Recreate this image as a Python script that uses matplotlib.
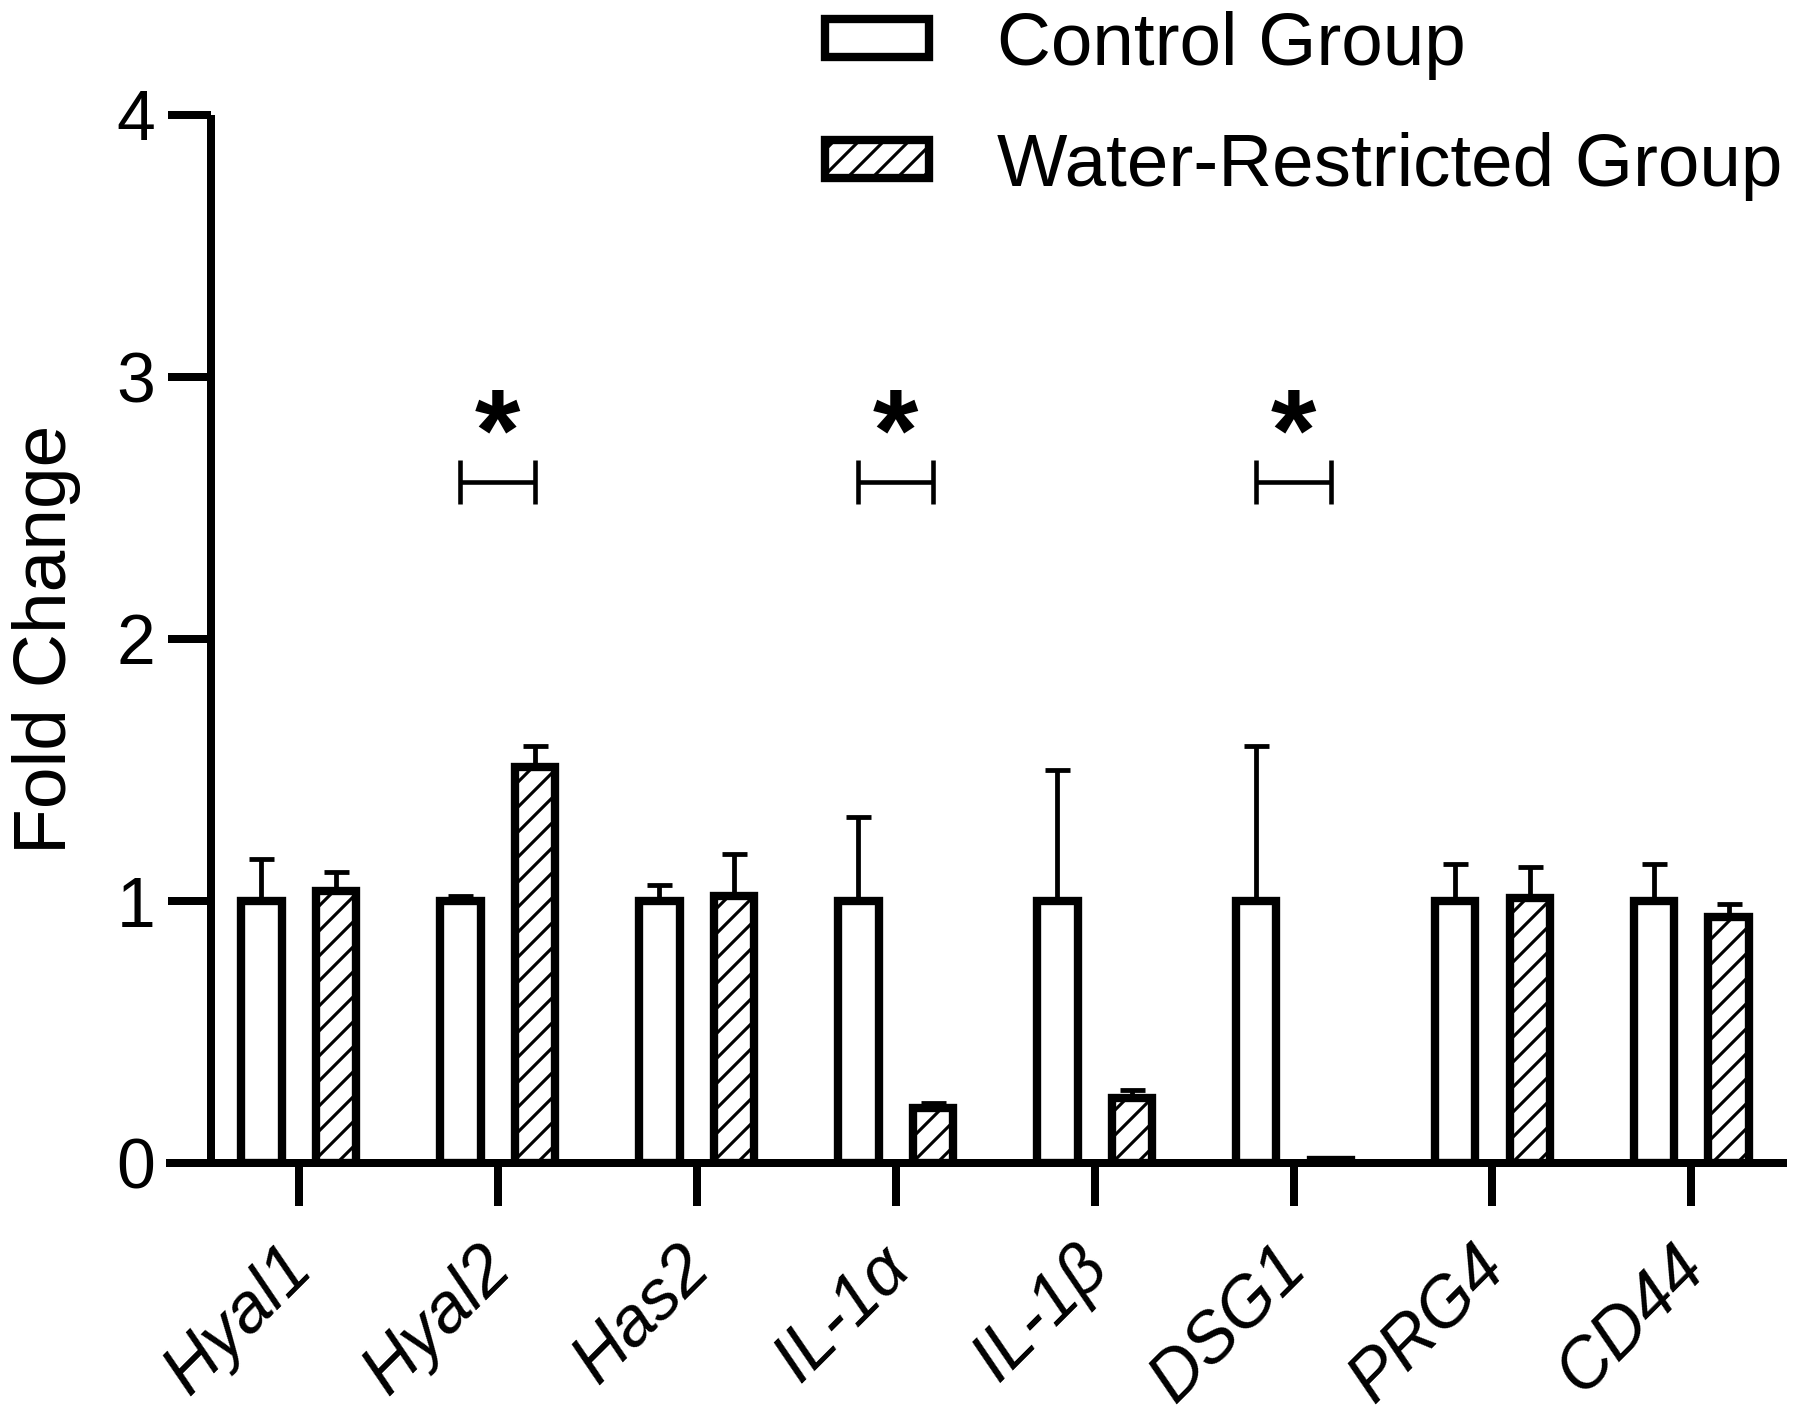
import numpy as np
import matplotlib
matplotlib.use("Agg")
import matplotlib.pyplot as plt
from matplotlib.transforms import ScaledTranslation

# ---- data ----
genes = ["Hyal1", "Hyal2", "Has2", "IL-1α", "IL-1β", "DSG1", "PRG4", "CD44"]
control = [1.0, 1.0, 1.0, 1.0, 1.0, 1.0, 1.0, 1.0]
control_err = [0.16, 0.02, 0.06, 0.32, 0.50, 0.59, 0.14, 0.14]
restricted = [1.04, 1.51, 1.02, 0.21, 0.25, 0.01, 1.01, 0.94]
restricted_err = [0.07, 0.08, 0.16, 0.02, 0.03, 0.01, 0.12, 0.05]
significant = ["Hyal2", "IL-1α", "DSG1"]
series_labels = ["Control Group", "Water-Restricted Group"]
y_ticks = [0, 1, 2, 3, 4]

plt.rcParams["font.family"] = ["Liberation Sans", "DejaVu Sans"]
plt.rcParams["hatch.linewidth"] = 1.5
plt.rcParams["hatch.color"] = "black"

fig = plt.figure(figsize=(12, 9.46), dpi=150)
ax = fig.add_axes([211 / 1800, 1 - 1163 / 1419, 1576 / 1800, (1163 - 115) / 1419])

x = np.arange(len(genes))
w = 0.203
off = 0.187
lw = 4.0

bc = ax.bar(x - off, control, w, facecolor="white", edgecolor="black",
            linewidth=lw, label=series_labels[0], zorder=3)
bw = ax.bar(x + off, restricted, w, facecolor="white", edgecolor="black",
            linewidth=lw, hatch="//", label=series_labels[1], zorder=3)

zeros = np.zeros(len(genes))
ax.errorbar(x - off, control, yerr=[zeros, control_err], fmt="none",
            ecolor="black", elinewidth=2.3, capsize=6, capthick=2.3, zorder=2)
ax.errorbar(x + off, restricted, yerr=[zeros, restricted_err], fmt="none",
            ecolor="black", elinewidth=2.3, capsize=6, capthick=2.3, zorder=2)

# significance brackets
bracket_y = 2.6
for g in significant:
    i = genes.index(g)
    ax.plot([i - off, i + off], [bracket_y, bracket_y], color="black", lw=2.2,
            solid_capstyle="butt")
    for xx in (i - off, i + off):
        ax.plot([xx, xx], [bracket_y - 0.085, bracket_y + 0.085], color="black",
                lw=2.2, solid_capstyle="butt")
    ax.text(i, 2.76, "*", ha="center", va="center", fontsize=56,
            fontweight="bold")

ax.set_xlim(-0.44, 7.48)
ax.set_ylim(0, 4)
ax.set_yticks(y_ticks)
ax.set_yticklabels([str(t) for t in y_ticks])
ax.set_xticks(x)

for s in ("top", "right", "bottom"):
    ax.spines[s].set_visible(False)
ax.spines["left"].set_linewidth(3.84)
ax.spines["left"].set_capstyle("butt")
ax.axhline(0, xmin=-0.0286, xmax=1.0, color="black", lw=3.84,
           clip_on=False, zorder=4, solid_capstyle="butt")

ax.tick_params(axis="y", length=20.6, width=3.84, labelsize=33.5, pad=6)
ax.tick_params(axis="x", length=20.6, width=3.84, labelsize=33.5, pad=31)

ax.set_xticklabels(genes, rotation=45, ha="right", va="baseline",
                   rotation_mode="anchor", fontstyle="italic")
shift = ScaledTranslation(8 / 72, 0, fig.dpi_scale_trans)
for lab in ax.get_xticklabels():
    lab.set_transform(lab.get_transform() + shift)

ax.set_ylabel("Fold Change", fontsize=36, labelpad=17)

fig.legend(handles=[bc, bw], labels=series_labels, loc="upper left",
           bbox_to_anchor=(825 / 1800, 0.9925), frameon=False, fontsize=35.8,
           handlelength=1.39, handleheight=0.40, handletextpad=0.92,
           labelspacing=0.70, borderpad=0, borderaxespad=0)

fig.savefig("out.png", dpi=150)
